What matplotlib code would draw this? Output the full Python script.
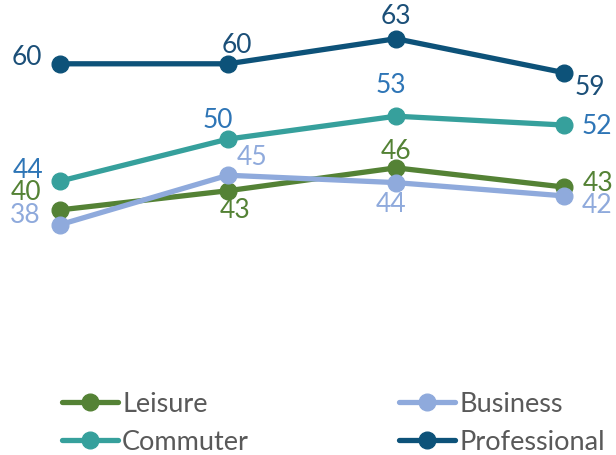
import matplotlib
matplotlib.use("Agg")
import matplotlib.pyplot as plt

periods = ["P1", "P2", "P3", "P4"]
leisure = [40.2, 42.8, 45.9, 43.3]
business = [38.2, 44.9, 43.9, 42.1]
commuter = [44.1, 49.8, 52.9, 51.7]
professional = [60.0, 60.0, 63.4, 58.8]

plt.rcParams['font.family'] = ['Lato', 'DejaVu Sans']

W, H = 616, 456
fig = plt.figure(figsize=(W / 100, H / 100), dpi=100)
ax = fig.add_axes([0, 0, 1, 1])
ax.set_xlim(-60 / 168, 3 + 52 / 168)
ax.set_ylim(6.99, 68.78)
ax.axis('off')

x = list(range(len(periods)))
series = [
    ("Professional", professional, "#0D5279", "#1B4F78",
     [(-33, 7), (9, 19), (0, 23), (26, -14)]),
    ("Commuter", commuter, "#36A09C", "#2E75B6",
     [(-32, 12), (-10, 20), (-5, 32), (33, 0)]),
    ("Leisure", leisure, "#548235", "#548235",
     [(-34, 18), (7, -19), (0, 17), (34, 5)]),
    ("Business", business, "#8FAADC", "#8FAADC",
     [(-35, 10), (24, 19), (-5, -21), (33, -9)]),
]

handles = {}
fs = 19
for name, vals, col, lcol, offs in series:
    ln, = ax.plot(x, vals, color=col, lw=3.8, marker='o', ms=12,
                  solid_capstyle='round', label=name, clip_on=False)
    handles[name] = ln
    for xi, v, (dx, dy) in zip(x, vals, offs):
        ax.annotate(f"{v:.0f}", (xi, v), xytext=(dx * 0.72, dy * 0.72),
                    textcoords='offset points', ha='center', va='center',
                    color=lcol, fontsize=fs)

lfs = 19.5
order = ["Leisure", "Commuter", "Business", "Professional"]
fig.legend([handles[n] for n in order], order, ncol=2, frameon=False,
           loc='upper left', bbox_to_anchor=(62 / W, 1 - 392 / H),
           borderpad=0, borderaxespad=0, handlelength=2.07, handletextpad=0.15,
           columnspacing=5.55, labelspacing=0.49, fontsize=lfs,
           labelcolor='#595959')

fig.savefig("out.png", dpi=100)
